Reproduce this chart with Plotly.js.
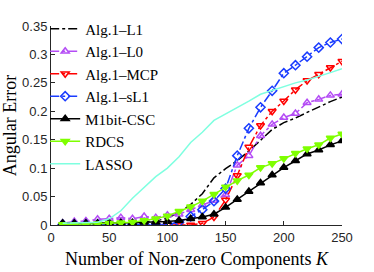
<!DOCTYPE html>
<html>
<head>
<meta charset="utf-8">
<script src="https://cdn.plot.ly/plotly-3.0.1.min.js"></script>
<style>html,body{margin:0;padding:0;background:#fff;}#chart{width:374px;height:272px;}</style>
</head>
<body>
<div id="chart"></div>
<script>
const K = [10,20,30,40,50,60,70,80,90,100,110,120,130,140,150,160,170,180,190,200,210,220,230,240,250];
const algL1  = [0.002,0.002,0.002,0.002,0.003,0.003,0.004,0.005,0.007,0.012,0.022,0.036,0.055,0.083,0.099,0.113,0.130,0.149,0.168,0.180,0.188,0.198,0.208,0.217,0.225];
const algL0  = [0.003,0.006,0.007,0.010,0.011,0.013,0.011,0.015,0.013,0.017,0.019,0.027,0.035,0.043,0.053,0.105,0.122,0.157,0.177,0.189,0.196,0.215,0.221,0.228,0.230];
const algMCP = [0.000,0.000,0.000,0.000,0.000,0.000,0.000,0.000,0.000,0.000,0.000,0.000,0.003,0.014,0.044,0.087,0.137,0.175,0.200,0.218,0.238,0.254,0.265,0.277,0.288];
const algSL1 = [0.001,0.001,0.001,0.001,0.001,0.001,0.001,0.001,0.001,0.001,0.005,0.015,0.027,0.042,0.064,0.122,0.170,0.207,0.236,0.267,0.281,0.296,0.312,0.321,0.327];
const m1bit  = [0.003,0.003,0.003,0.003,0.004,0.004,0.004,0.005,0.005,0.006,0.008,0.011,0.014,0.019,0.031,0.045,0.059,0.074,0.088,0.101,0.113,0.125,0.132,0.141,0.148];
const rdcs   = [0.001,0.001,0.001,0.002,0.003,0.004,0.005,0.008,0.011,0.016,0.024,0.032,0.042,0.054,0.067,0.078,0.088,0.101,0.108,0.117,0.126,0.134,0.141,0.153,0.160];
const lasso  = [0.003,0.004,0.004,0.005,0.011,0.025,0.047,0.066,0.085,0.100,0.120,0.145,0.163,0.184,0.195,0.207,0.218,0.230,0.237,0.244,0.250,0.255,0.261,0.268,0.275];
const names = ['Alg.1–L1','Alg.1–L0','Alg.1–MCP','Alg.1–sL1','M1bit-CSC','RDCS','LASSO'];
const xTicks = [0,50,100,150,200,250];
const yTicks = [0,0.05,0.1,0.15,0.2,0.25,0.3,0.35];

const SERIF = 'Liberation Serif';
function tr(name, y, color, dash, sym){
  const t = {x:K, y:y, name:name, type:'scatter', mode: sym ? 'lines+markers' : 'lines',
    line:{color:color, width:1.5, dash:dash}};
  if (sym) t.marker = {symbol:sym, size:7, color:color, line:{color:color, width:1.5}};
  return t;
}
const data = [
  tr(names[0], algL1, '#000000', 'dashdot', null),
  tr(names[1], algL0, '#b44cf5', 'dashdot', 'triangle-up-open'),
  tr(names[2], algMCP, '#ff0000', 'dashdot', 'triangle-down-open'),
  tr(names[3], algSL1, '#1a3cff', 'dashdot', 'diamond-open'),
  tr(names[4], m1bit, '#000000', 'solid', 'triangle-up'),
  tr(names[5], rdcs, '#7fff00', 'solid', 'triangle-down'),
  tr(names[6], lasso, '#7fffe0', 'solid', null)
];
const tickFont = {family:'Liberation Sans', size:13, color:'#262626'};
const layout = {
  width:374, height:272,
  margin:{l:51, r:32, t:12, b:47},
  paper_bgcolor:'#fff', plot_bgcolor:'#fff',
  showlegend:true,
  legend:{x:-0.02, y:1.068, xanchor:'left', yanchor:'top', bgcolor:'rgba(0,0,0,0)',
    font:{family:SERIF, size:15, color:'#000'},
    itemwidth:30, tracegroupgap:0, maxheight:1},
  xaxis:{range:[0,250], tickvals:xTicks, ticktext:xTicks.map(String), ticks:'inside', ticklen:4,
    tickcolor:'#262626', showline:true, linecolor:'#262626', linewidth:1, showgrid:false, zeroline:false,
    tickfont:tickFont,
    title:{text:'Number of Non-zero Components <i>K</i>', font:{family:SERIF, size:18, color:'#000'}, standoff:8}},
  yaxis:{range:[0,0.35], tickvals:yTicks, ticktext:yTicks.map(String), ticks:'inside', ticklen:4,
    tickcolor:'#262626', showline:true, linecolor:'#262626', linewidth:1, showgrid:false, zeroline:false,
    tickfont:tickFont,
    title:{text:'Angular Error', font:{family:SERIF, size:18, color:'#000'}, standoff:4}}
};
Plotly.newPlot('chart', data, layout, {staticPlot:true, displayModeBar:false});
</script>
</body>
</html>
